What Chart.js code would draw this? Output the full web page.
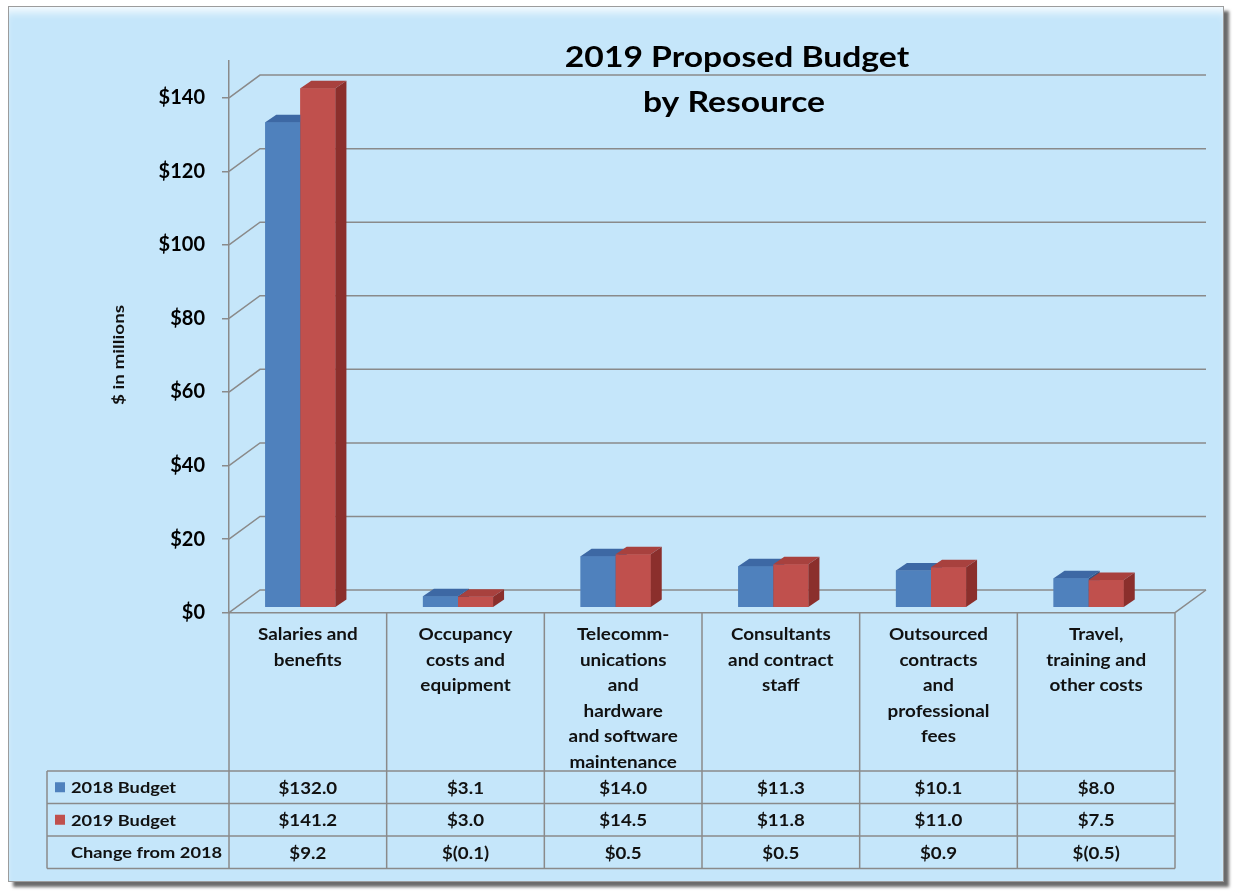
<!DOCTYPE html>
<html>
<head>
<meta charset="utf-8">
<title>2019 Proposed Budget by Resource</title>
<script src="https://cdn.jsdelivr.net/npm/chart.js@4.4.1/dist/chart.umd.min.js"></script>
<style>
  html, body { margin: 0; padding: 0; background: #ffffff; }
  #frame {
    position: absolute; left: 8px; top: 6px; width: 1214px; height: 874px;
    background: #c5e6fa; border: 1px solid #9c9c9c;
    box-shadow: 5px 5px 3px #6b6b6b, inset 0 9px 8px -4px rgba(255,255,255,0.85);
  }
  #chart { position: absolute; left: 0; top: 0; }
</style>
</head>
<body>
<div id="frame"></div>
<canvas id="chart" width="1235" height="892"></canvas>
<script>
// data
const categories = [
  ["Salaries and", "benefits"],
  ["Occupancy", "costs and", "equipment"],
  ["Telecomm-", "unications", "and", "hardware", "and software", "maintenance"],
  ["Consultants", "and contract", "staff"],
  ["Outsourced", "contracts", "and", "professional", "fees"],
  ["Travel,", "training and", "other costs"]
];
const budget2018 = [132.0, 3.1, 14.0, 11.3, 10.1, 8.0];
const budget2019 = [141.2, 3.0, 14.5, 11.8, 11.0, 7.5];
const changeFrom2018 = [9.2, -0.1, 0.5, 0.5, 0.9, -0.5];
const yTicks = [0, 20, 40, 60, 80, 100, 120, 140];
const rowNames = ["2018 Budget", "2019 Budget", "Change from 2018"];

const FONT = 'Lato, "Open Sans", sans-serif';
const GRID = '#8a8a8a';
const WALL_DX = 31, WALL_DY = -22.7;  // depth of the floor / side wall
const BAR_DX = 11, BAR_DY = -7.5;     // depth of each bar
const SHIFT_X = -7.5, SHIFT_Y = -5;   // bars stand in the middle of the floor

function money(v) {
  return v < 0 ? '$(' + Math.abs(v).toFixed(1) + ')' : '$' + v.toFixed(1);
}

function poly(ctx, pts) {
  ctx.beginPath();
  ctx.moveTo(pts[0][0], pts[0][1]);
  for (let i = 1; i < pts.length; i++) ctx.lineTo(pts[i][0], pts[i][1]);
  ctx.closePath();
  ctx.fill();
}

function line(ctx, x1, y1, x2, y2) {
  ctx.beginPath();
  ctx.moveTo(x1, y1);
  ctx.lineTo(x2, y2);
  ctx.stroke();
}

// the original uses a wide Calibri, so stretch Lato a little
function wideText(ctx, text, x, y, sx) {
  ctx.save();
  ctx.translate(x, y);
  ctx.scale(sx, 1);
  ctx.fillText(text, 0, 0);
  ctx.restore();
}

const box3d = {
  id: 'box3d',
  beforeDatasetsDraw(chart) {
    const ctx = chart.ctx;
    const ca = chart.chartArea;
    const y = chart.scales.y;
    ctx.save();
    ctx.strokeStyle = GRID;
    ctx.lineWidth = 1.5;
    // side wall diagonals + back wall gridlines
    yTicks.forEach(v => {
      const py = y.getPixelForValue(v);
      ctx.beginPath();
      ctx.moveTo(ca.left, py);
      ctx.lineTo(ca.left + WALL_DX, py + WALL_DY);
      ctx.lineTo(ca.right + WALL_DX, py + WALL_DY);
      ctx.stroke();
    });
    // floor right edge
    const p0 = y.getPixelForValue(0);
    line(ctx, ca.right + WALL_DX, p0 + WALL_DY, ca.right, p0);
    ctx.restore();

    // columns are drawn half way back on the floor
    ctx.save();
    ctx.translate(SHIFT_X, SHIFT_Y);
  },
  afterDatasetsDraw(chart) {
    // redraw every column as a box, left series first so the right one hides its side
    const ctx = chart.ctx;
    const metas = chart.data.datasets.map((ds, i) => chart.getDatasetMeta(i));
    categories.forEach((c, j) => {
      metas.forEach((meta, i) => {
        const ds = chart.data.datasets[i];
        const p = meta.data[j].getProps(['x', 'y', 'base', 'width'], true);
        const l = p.x - p.width / 2, r = p.x + p.width / 2;
        ctx.fillStyle = ds.backgroundColor;
        ctx.fillRect(l, p.y, p.width, p.base - p.y);
        ctx.fillStyle = ds.topColor;
        poly(ctx, [[l, p.y], [r, p.y], [r + BAR_DX, p.y + BAR_DY], [l + BAR_DX, p.y + BAR_DY]]);
        ctx.fillStyle = ds.sideColor;
        poly(ctx, [[r, p.y], [r + BAR_DX, p.y + BAR_DY], [r + BAR_DX, p.base + BAR_DY], [r, p.base]]);
      });
    });
    ctx.restore();
  },
  afterDraw(chart) {
    const ctx = chart.ctx;
    const ca = chart.chartArea;
    const xs = chart.scales.x;
    const colW = (ca.right - ca.left) / categories.length;
    const headBottom = 771, rowH = 32.5, legendLeft = 47;
    const tableBottom = headBottom + rowH * 3;

    ctx.save();
    // table grid
    ctx.strokeStyle = GRID;
    ctx.lineWidth = 1.5;
    line(ctx, ca.left, ca.bottom, ca.right, ca.bottom);
    for (let k = 0; k <= 3; k++) line(ctx, legendLeft, headBottom + k * rowH, ca.right, headBottom + k * rowH);
    for (let i = 0; i <= categories.length; i++) line(ctx, ca.left + i * colW, ca.bottom, ca.left + i * colW, tableBottom);
    line(ctx, legendLeft, headBottom, legendLeft, tableBottom);

    ctx.fillStyle = '#111';
    ctx.textAlign = 'center';
    ctx.textBaseline = 'middle';
    // category headers
    ctx.font = 'bold 17px ' + FONT;
    categories.forEach((lines, i) => {
      const cx = xs.getPixelForValue(i);
      lines.forEach((t, j) => wideText(ctx, t, cx, 635 + j * 25.5, 1.11));
    });
    // values
    const rows = [budget2018.map(money), budget2019.map(money), changeFrom2018.map(money)];
    ctx.font = 'bold 17px ' + FONT;
    rows.forEach((vals, k) => {
      const cy = headBottom + rowH * (k + 0.5);
      vals.forEach((t, i) => wideText(ctx, t, xs.getPixelForValue(i), cy + 1, 1.1));
    });
    // legend column
    ctx.textAlign = 'left';
    ctx.font = 'bold 16px ' + FONT;
    rowNames.forEach((name, k) => {
      const cy = headBottom + rowH * (k + 0.5);
      const ds = chart.data.datasets[k];
      if (ds) {
        ctx.fillStyle = ds.backgroundColor;
        ctx.fillRect(55, cy - 5, 10, 10);
      }
      ctx.fillStyle = '#111';
      wideText(ctx, name, 71, cy + 1, 1.14);
    });

    // axis title
    ctx.save();
    ctx.translate(119, 355);
    ctx.rotate(-Math.PI / 2);
    ctx.textAlign = 'center';
    ctx.font = 'bold 16px ' + FONT;
    wideText(ctx, '$ in millions', 0, 0, 1.18);
    ctx.restore();

    // chart title
    ctx.textAlign = 'center';
    ctx.textBaseline = 'alphabetic';
    ctx.fillStyle = '#000';
    ctx.font = 'bold 29px ' + FONT;
    wideText(ctx, '2019 Proposed Budget', 737, 67, 1.16);
    wideText(ctx, 'by Resource', 734, 112, 1.16);
    ctx.restore();
  }
};

new Chart(document.getElementById('chart'), {
  type: 'bar',
  data: {
    labels: categories.map(c => c.join(' ')),
    datasets: [
      {
        label: rowNames[0],
        data: budget2018,
        backgroundColor: '#4f81bd',
        topColor: '#3d68a4',
        sideColor: '#2f5283',
        clip: false
      },
      {
        label: rowNames[1],
        data: budget2019,
        backgroundColor: '#c0504d',
        topColor: '#a8413e',
        sideColor: '#8b2f2c',
        clip: false
      }
    ]
  },
  options: {
    responsive: false,
    animation: false,
    events: [],
    layout: { padding: { left: 20, right: 60, top: 61, bottom: 279.3 } },
    datasets: { bar: { categoryPercentage: 0.445, barPercentage: 1.0 } },
    plugins: {
      legend: { display: false },
      title: { display: false },
      tooltip: { enabled: false }
    },
    scales: {
      x: { display: false },
      y: {
        min: 0,
        max: 150,
        afterBuildTicks: scale => { scale.ticks = yTicks.map(v => ({ value: v })); },
        afterFit: scale => { scale.width = 209; },
        ticks: {
          padding: 17,
          color: '#000',
          font: { family: FONT, size: 20, weight: 'bold' },
          callback: v => '$' + v
        },
        grid: { drawOnChartArea: false, drawTicks: true, tickLength: 7, color: GRID, lineWidth: 1.5 },
        border: { display: true, color: GRID, width: 1.5 }
      }
    }
  },
  plugins: [box3d]
});
</script>
</body>
</html>
